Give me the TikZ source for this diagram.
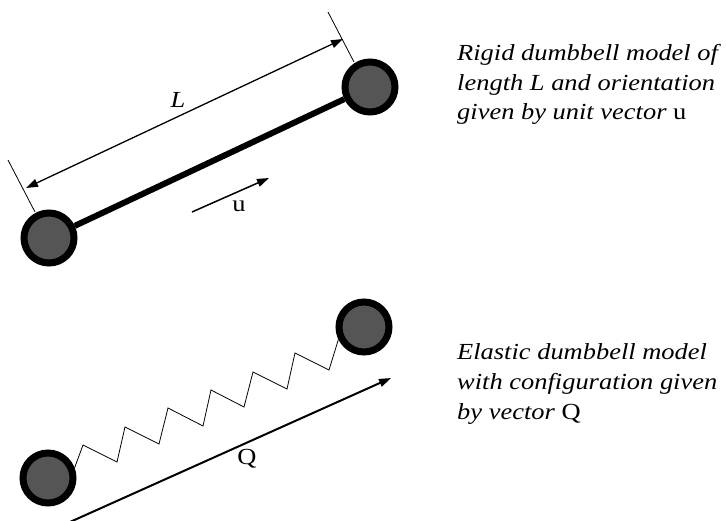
\documentclass[tikz,border=0pt]{standalone}
\usepackage{fontspec}
\setmainfont{Liberation Serif}[FakeStretch=1.15]
\usetikzlibrary{arrows.meta}
\begin{document}
\begin{tikzpicture}[x=1pt,y=-1pt,
  ball/.style={circle,draw=black,fill=ballgray,line width=7pt,minimum size=50pt,inner sep=0pt},
  tip/.style={-{Triangle[length=12pt,width=8pt]}},
  dimline/.style={line width=1.3pt,{Triangle[length=12pt,width=8pt]}-{Triangle[length=12pt,width=8pt]}},
  extline/.style={line width=0.8pt},
  caption/.style={align=left,anchor=base west,inner sep=0pt,font=\fontsize{23pt}{29.5pt}\selectfont\itshape},
  lbl/.style={inner sep=0pt,font=\fontsize{23pt}{26pt}\selectfont}
]
\definecolor{ballgray}{RGB}{85,85,85}
\useasboundingbox (0,0) rectangle (726,521);
% rigid dumbbell
\node[ball] (b1) at (49,238) {};
\node[ball] (b2) at (370,87) {};
\draw[line width=6pt] (b1) -- (b2);
\coordinate (e1a) at (8,160); \coordinate (e1b) at (35,212);
\coordinate (e2a) at (328,12); \coordinate (e2b) at (354,62);
\draw[extline] (e1a) -- (e1b);
\draw[extline] (e2a) -- (e2b);
\coordinate (d1) at (26,188); \coordinate (d2) at (343,39);
\draw[dimline] (d1) -- (d2);
\node[lbl,font=\fontsize{23pt}{26pt}\selectfont\itshape] (lL) at (178,100) {L};
\coordinate (u1) at (192,212); \coordinate (u2) at (269,178);
\draw[tip,line width=1.5pt] (u1) -- (u2);
\node[lbl] (lu) at (239,206) {u};
% elastic dumbbell
\node[ball] (b3) at (48,478) {};
\node[ball] (b4) at (364,327) {};
\draw[line width=0.8pt] (b3.21) -- (83,445) -- (117,462) -- (125,427) -- (159,444) -- (168,408) -- (203,426) -- (211,390) -- (244,407) -- (253,372) -- (287,389) -- (295,353) -- (329,370) -- (b4.206);
\coordinate (q1) at (70,522); \coordinate (q2) at (391,378);
\draw[tip,line width=2pt] (q1) -- (q2);
\node[lbl] (lQ) at (247,459) {Q};
% captions
\node[caption] (c1) at (457,120) {Rigid dumbbell model of\\length \textit{L} and orientation\\given by unit vector \textup{u}};
\node[caption] (c2) at (457,419) {Elastic dumbbell model\\with configuration given\\by vector \textup{Q}};
\end{tikzpicture}
\end{document}
